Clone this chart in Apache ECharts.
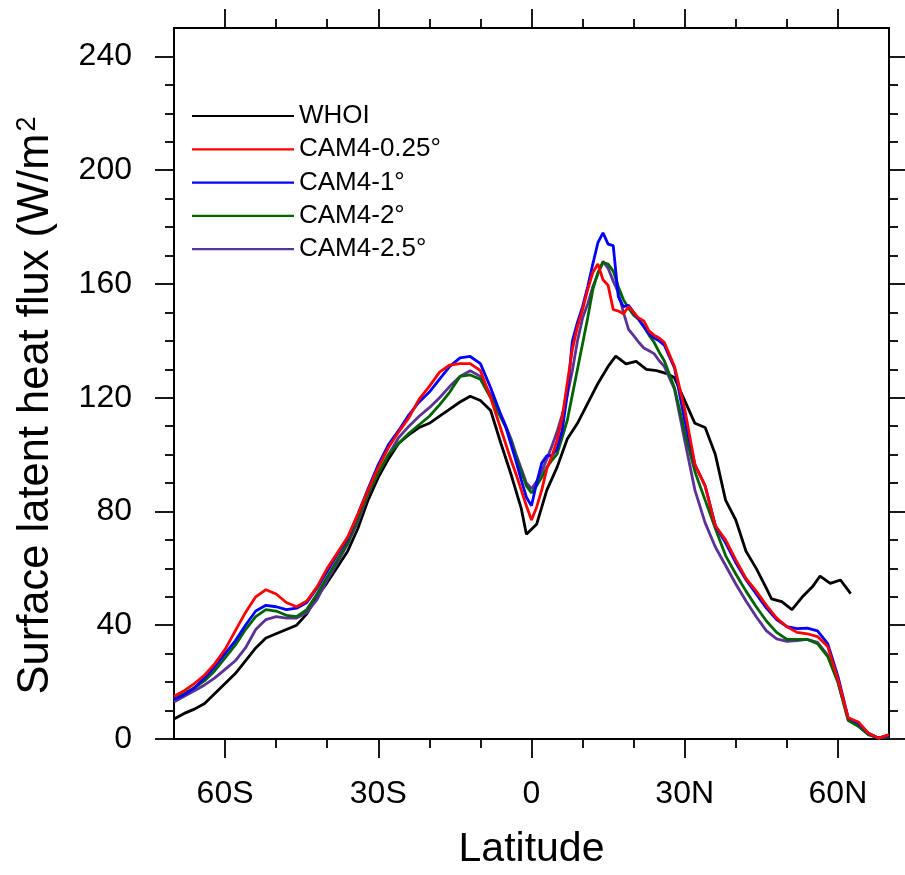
<!DOCTYPE html>
<html>
<head>
<meta charset="utf-8">
<script src="https://cdn.jsdelivr.net/npm/echarts@6/dist/echarts.min.js"></script>
<style>
html,body{margin:0;padding:0;background:#fff;}
#chart{width:905px;height:875px;}
</style>
</head>
<body>
<div id="chart"></div>
<script>
// Latitudes for the model curves
const modelLat = [-70,-68,-66,-64,-62,-60,-58,-56,-54,-52,-50,-48,-46,-44,-42,-40,-38,-36,-34,-32,-30,-28,-26,-24,-22,-20,-18,-16,-14,-12,-10,-8,-6,
  -5,-4,-3,-2,-1,0,1,2,3,4,5,6,7,8,9,10,11,12,13,14,15,16,17,18,19,20,21,22,23,24,25,
  26,28,30,32,34,36,38,40,42,44,46,48,50,52,54,56,58,60,62,64,66,68,70];

const cam025 = [15,17,19.5,22.5,26.5,31.5,38,44.5,50,52.5,51,48,46.5,48.5,53.5,60,65.5,71,79,87.5,95.5,102.5,108,113,119.5,124,129,131.5,132,132,129.5,120,109,
  103.5,98,93,87.5,82,77,81.5,87.5,95,99.5,105,113,125,137,145,151,158,164,167,161.5,159.5,151,150.5,149.5,152,150,148,147,143.5,142,141,
  139.5,131,116,96.5,89,75,70,63,56.5,52,47,42.5,39.5,37.5,37,36,32.5,21,7.5,6,2,0.3,1.6];

const cam1 = [14,15.5,18,21.5,25.5,30,34.5,40,45,47,46.5,45.5,46,48,53,59,65,70.5,79,88,96.5,103.5,108.5,114,118.5,122,126.5,131,134,134.5,132,123.5,114,
  109.5,103.5,97.5,91,85,82,90,97,99.6,99.6,102,108.5,121,140,146.5,152,159,167,174.5,178,174,173.5,155.5,152,152.5,150,147.5,145,142.5,141,140,
  138.5,130.5,112,96.5,89,75,69,62,56,51,46,42,39.5,38.8,39,38,33.5,22,7.5,5.5,2,0.3,1.4];

const cam2 = [14,16,18,20.5,24,28.5,33,38.5,43,45.5,45,43.5,43,45.5,51,57,63,69,77.5,86.5,93.5,100,104,107.5,110.5,113.5,117.5,122,127.5,128,126.5,120,113,
  109.5,104.5,99,94,89,86.5,89,92,95.5,98,100.2,106,112,121,130,139,148,158,164,167.5,167,164.5,159,154.5,151.5,149,147.5,145,142,139.5,136,
  133,123.5,108,94,84,74,64.5,58,52,46.5,41.5,37.5,35,35,35,33.5,29,20,6.5,4.5,1.5,0.4,1];

const cam25 = [13,15,17,19,21.5,24.5,27.5,32,38.5,42,43,42.5,42.5,44.5,49,56,62,68.5,76.5,86,93.5,100,106,110,113.5,116.5,120,124,127.5,129.5,127.5,121,114,
  110,105.5,100,95,90,88,90.5,94,98.5,103,108,114,121,129.5,140,148,153,159,163.5,168,165.5,161,157,150,144,141.8,139.5,137.5,136.5,135.5,133,
  131,123,105,87.5,76,67.5,61,54.5,48.5,43,38,35.2,34.3,34.6,35,34,29.5,20,7,4.5,1.5,0.3,0.8];

// Observations
const whoiLat = [-70,-68,-66,-64,-62,-60,-58,-56,-54,-52,-50,-48,-46,-44,-42,-40,-38,-36,-34,-32,-30,-28,-26,-24,-22,-20,-18,-16,-14,-12,-10,-8,-6,-4,-2,-1,
  1,3,5,7,9,11,13,15,16.5,18.5,20.5,22.5,24.5,26.5,28,30,32,34,36,38,40,42,44,46,47,49,51,53,55,56.5,58.5,60.5,62.5];
const whoi = [7,9,10.5,12.5,16,19.5,23,27.5,32,35.5,37,38.5,40,44,50,55,60.5,66,74,84,92,98.5,104,107,109.5,111,113.5,116,118.5,120.5,119,115.5,104,93,81,72,
  75.5,87.5,95.5,105.5,111,118,125,131,134.6,131.9,132.8,130,129.5,128.5,127,119,111,109.5,100,84,77,66,60,53,49.3,48.3,45.5,49.9,53.5,57.3,54.7,55.9,51.1];

const xMajor = [-60,-30,0,30,60];
const xMinor = [-50,-40,-20,-10,10,20,40,50];
const yMajor = [0,40,80,120,160,200,240];
const yMinor = [10,20,30,50,60,70,90,100,110,130,140,150,170,180,190,210,220,230];

const seriesNames = ['WHOI','CAM4-0.25°','CAM4-1°','CAM4-2°','CAM4-2.5°'];
const seriesColors = ['#000000','#ff0000','#0000ff','#006400','#5b3295'];

const FONT = "'Liberation Sans', Arial, Helvetica, sans-serif";

function latFmt(v){
  if (v === 0) return '0';
  return v < 0 ? (-v) + 'S' : v + 'N';
}
function pairs(xs, ys){ return xs.map((x,i)=>[x, ys[i]]); }

const chart = echarts.init(document.getElementById('chart'), null, {renderer:'canvas'});

const axisLineStyle = {color:'#000', width:2};
const tickStyle = {color:'#000', width:1.8};

function xAxisDef(pos, ticks, len, withLabels){
  const a = {
    type:'value', min:-70, max:70, position:pos, gridIndex:0,
    axisLine:{show:true, onZero:false, lineStyle:axisLineStyle},
    axisTick:{show:true, inside:false, length:len, customValues:ticks, lineStyle:tickStyle},
    axisLabel:{show:false},
    splitLine:{show:false}
  };
  if (withLabels){
    a.axisLabel = {show:true, customValues:xMajor, formatter:latFmt, fontSize:32, color:'#000', margin:39, fontFamily:FONT};
    a.name = 'Latitude';
    a.nameLocation = 'middle';
    a.nameGap = 90;
    a.nameTextStyle = {fontSize:41, color:'#000', fontFamily:FONT};
  }
  return a;
}
function yAxisDef(pos, ticks, len, withLabels){
  const a = {
    type:'value', min:0, max:250, position:pos, gridIndex:0,
    axisLine:{show:true, onZero:false, lineStyle:axisLineStyle},
    axisTick:{show:true, inside:false, length:len, customValues:ticks, lineStyle:tickStyle},
    axisLabel:{show:false},
    splitLine:{show:false}
  };
  if (withLabels){
    a.axisLabel = {show:true, customValues:yMajor, fontSize:32, color:'#000', margin:42, fontFamily:FONT};
    a.name = 'Surface latent heat flux (W/m{sup|2}';
    a.nameLocation = 'middle';
    a.nameRotate = 90;
    a.nameGap = 116;
    a.nameTextStyle = {fontSize:43.5, color:'#000', fontFamily:FONT, padding:[0,44,0,0],
      rich:{sup:{fontSize:27, fontFamily:FONT, color:'#000', verticalAlign:'top', padding:[0,0,0,2]}}};
  }
  return a;
}

const allSeries = [
  {name:seriesNames[0], data:pairs(whoiLat, whoi), color:seriesColors[0], z:2},
  {name:seriesNames[4], data:pairs(modelLat, cam25), color:seriesColors[4], z:3},
  {name:seriesNames[3], data:pairs(modelLat, cam2), color:seriesColors[3], z:4},
  {name:seriesNames[2], data:pairs(modelLat, cam1), color:seriesColors[2], z:5},
  {name:seriesNames[1], data:pairs(modelLat, cam025), color:seriesColors[1], z:6}
].map(s => ({
  type:'line', name:s.name, data:s.data, xAxisIndex:0, yAxisIndex:0,
  showSymbol:false, symbol:'none', smooth:false, z:s.z,
  lineStyle:{color:s.color, width:2.8}, itemStyle:{color:s.color},
  emphasis:{disabled:true}, animation:false
}));

const option = {
  backgroundColor:'#ffffff',
  animation:false,
  grid:{left:174, right:16, top:28, bottom:132, containLabel:false},
  legend:{
    data:seriesNames, orient:'vertical', left:187, top:98,
    icon:'rect', itemWidth:102, itemHeight:2.2, itemGap:7.3,
    textStyle:{fontSize:26, color:'#000', fontFamily:FONT, lineHeight:26},
    selectedMode:false
  },
  xAxis:[
    xAxisDef('bottom', xMajor, 19, true),
    xAxisDef('bottom', xMinor, 9, false),
    xAxisDef('top', xMajor, 19, false),
    xAxisDef('top', xMinor, 9, false)
  ],
  yAxis:[
    yAxisDef('left', yMajor, 19, true),
    yAxisDef('left', yMinor, 9, false),
    yAxisDef('right', yMajor, 19, false),
    yAxisDef('right', yMinor, 9, false)
  ],
  series:allSeries
};
chart.setOption(option);
</script>
</body>
</html>
